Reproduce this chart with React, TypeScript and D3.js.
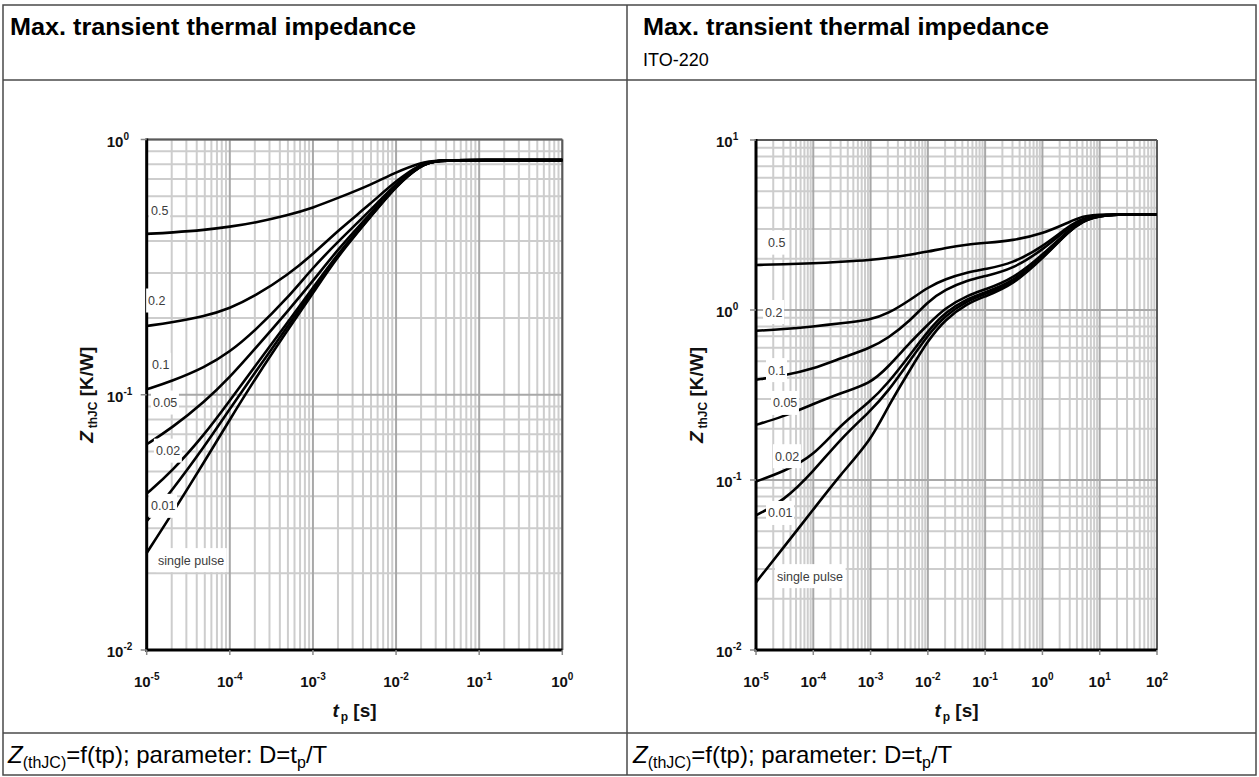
import React from 'react';
import * as d3 from 'd3';

// ---------- DATA ----------
// Left chart: time points (s) and Zth (K/W) per duty cycle
const leftT = [1e-5, 2e-5, 5e-5, 1e-4, 2e-4, 5e-4, 1e-3, 2e-3, 5e-3, 1e-2, 2e-2, 3e-2, 1e-1, 1];
const leftD05 = [0.427, 0.432, 0.442, 0.455, 0.472, 0.505, 0.54, 0.59, 0.665, 0.745, 0.812, 0.83, 0.83, 0.83];
const leftD02 = [0.186, 0.192, 0.203, 0.218, 0.243, 0.295, 0.355, 0.44, 0.562, 0.69, 0.805, 0.83, 0.83, 0.83];
const leftD01 = [0.105, 0.113, 0.128, 0.147, 0.178, 0.24, 0.315, 0.398, 0.53, 0.675, 0.8, 0.83, 0.83, 0.83];
const leftD005 = [0.064, 0.074, 0.094, 0.117, 0.151, 0.213, 0.279, 0.372, 0.515, 0.667, 0.798, 0.83, 0.83, 0.83];
const leftD002 = [0.041, 0.05, 0.07, 0.095, 0.129, 0.193, 0.262, 0.358, 0.505, 0.662, 0.797, 0.83, 0.83, 0.83];
const leftD001 = [0.032, 0.042, 0.063, 0.088, 0.122, 0.186, 0.256, 0.354, 0.502, 0.66, 0.796, 0.83, 0.83, 0.83];
const leftSingle = [0.024, 0.034, 0.055, 0.08, 0.115, 0.18, 0.25, 0.35, 0.5, 0.658, 0.795, 0.83, 0.83, 0.83];

const leftLabelText = ['0.5', '0.2', '0.1', '0.05', '0.02', '0.01', 'single pulse'];
const leftLabelT = [1.13e-5, 1.04e-5, 1.16e-5, 1.19e-5, 1.29e-5, 1.13e-5, 1.37e-5];
const leftLabelZ = [0.528, 0.234, 0.131, 0.0932, 0.0604, 0.0367, 0.0225];

// Right chart (ITO-220)
const rightT = [1e-5, 3e-5, 1e-4, 3e-4, 1e-3, 2e-3, 5e-3, 1e-2, 2e-2, 5e-2, 1e-1, 3e-1, 1, 3, 5, 10, 100];
const rightD05 = [1.84, 1.86, 1.88, 1.92, 1.97, 2.02, 2.12, 2.2, 2.32, 2.43, 2.48, 2.56, 2.8, 3.3, 3.56, 3.66, 3.66];
const rightD02 = [0.755, 0.77, 0.8, 0.835, 0.875, 0.95, 1.15, 1.36, 1.52, 1.67, 1.74, 1.88, 2.35, 3.15, 3.45, 3.66, 3.66];
const rightD01 = [0.389, 0.41, 0.45, 0.52, 0.6, 0.68, 0.87, 1.12, 1.32, 1.5, 1.58, 1.74, 2.25, 3.1, 3.4, 3.66, 3.66];
const rightD005 = [0.211, 0.236, 0.28, 0.325, 0.37, 0.46, 0.65, 0.82, 1.03, 1.22, 1.32, 1.52, 2.1, 3.0, 3.35, 3.66, 3.66];
const rightD002 = [0.098, 0.112, 0.138, 0.212, 0.29, 0.37, 0.55, 0.75, 0.97, 1.17, 1.27, 1.46, 2.05, 2.98, 3.33, 3.66, 3.66];
const rightD001 = [0.062, 0.075, 0.112, 0.175, 0.255, 0.33, 0.51, 0.71, 0.93, 1.14, 1.24, 1.43, 2.02, 2.96, 3.31, 3.66, 3.66];
const rightSingle = [0.025, 0.04, 0.067, 0.108, 0.17, 0.27, 0.45, 0.66, 0.88, 1.1, 1.2, 1.4, 2.0, 2.95, 3.3, 3.66, 3.66];

const rightLabelText = ['0.5', '0.2', '0.1', '0.05', '0.02', '0.01', 'single pulse'];
const rightLabelT = [1.62e-5, 1.44e-5, 1.62e-5, 1.98e-5, 2.14e-5, 1.62e-5, 2.32e-5];
const rightLabelZ = [2.49, 0.973, 0.443, 0.284, 0.138, 0.064, 0.0272];

const leftXExps = [-5, -4, -3, -2, -1, 0];
const leftYExps = [-2, -1, 0];
const rightXExps = [-5, -4, -3, -2, -1, 0, 1, 2];
const rightYExps = [-2, -1, 0, 1];

// ---------- HELPERS ----------
const FONT = "'Liberation Sans', Arial, sans-serif";

function approxWidth(s: string, fs: number) {
  let w = 0;
  for (const c of s) {
    if (c === '.' || c === ' ' || c === 'i' || c === 'l') w += 0.25;
    else if (c === 's') w += 0.5;
    else w += 0.556;
  }
  return w * fs;
}

type ChartProps = {
  px0: number; px1: number; py0: number; py1: number;
  tDomain: [number, number]; zDomain: [number, number];
  tValues: number[]; series: number[][];
  labelText: string[]; labelT: number[]; labelZ: number[];
  xExps: number[]; yExps: number[];
  yTitleX: number;
};

function Chart(p: ChartProps) {
  const x = d3.scaleLog().domain(p.tDomain).range([p.px0, p.px1]);
  const y = d3.scaleLog().domain(p.zDomain).range([p.py1, p.py0]);
  const xMinor: number[] = [];
  for (let e = p.xExps[0]; e < p.xExps[p.xExps.length - 1]; e++)
    for (let k = 2; k <= 9; k++) xMinor.push(k * Math.pow(10, e));
  const yMinor: number[] = [];
  for (let e = p.yExps[0]; e < p.yExps[p.yExps.length - 1]; e++)
    for (let k = 2; k <= 9; k++) yMinor.push(k * Math.pow(10, e));
  const line = d3.line<number>()
    .x((_, i) => x(p.tValues[i]))
    .y((d) => y(d))
    .curve(d3.curveBasis);
  const cx = (p.px0 + p.px1) / 2;
  const cy = (p.py0 + p.py1) / 2;
  const lfs = 12.5;
  return (
    <g fontFamily={FONT}>
      {xMinor.map((v, i) => (
        <line key={'xm' + i} x1={x(v)} x2={x(v)} y1={p.py0} y2={p.py1} stroke="#cdcdcd" strokeWidth={2} />
      ))}
      {yMinor.map((v, i) => (
        <line key={'ym' + i} y1={y(v)} y2={y(v)} x1={p.px0} x2={p.px1} stroke="#cdcdcd" strokeWidth={2} />
      ))}
      {p.xExps.map((e) => (
        <line key={'xM' + e} x1={x(Math.pow(10, e))} x2={x(Math.pow(10, e))} y1={p.py0} y2={p.py1} stroke="#a8a8a8" strokeWidth={2} />
      ))}
      {p.yExps.map((e) => (
        <line key={'yM' + e} y1={y(Math.pow(10, e))} y2={y(Math.pow(10, e))} x1={p.px0} x2={p.px1} stroke="#a8a8a8" strokeWidth={2} />
      ))}
      <line x1={p.px0} x2={p.px1} y1={p.py0} y2={p.py0} stroke="#5a5a5a" strokeWidth={2} />
      <line x1={p.px1} x2={p.px1} y1={p.py0} y2={p.py1} stroke="#5a5a5a" strokeWidth={2} />
      {p.series.map((s, i) => (
        <path key={'s' + i} d={line(s) || ''} fill="none" stroke="#000" strokeWidth={2.6} />
      ))}
      <line x1={p.px0} x2={p.px0} y1={p.py0 - 1} y2={p.py1 + 1.5} stroke="#000" strokeWidth={3} />
      <line x1={p.px0 - 1.5} x2={p.px1} y1={p.py1} y2={p.py1} stroke="#000" strokeWidth={3} />
      {p.yExps.map((e) => (
        <g key={'yt' + e}>
          <line x1={p.px0 - 6} x2={p.px0} y1={y(Math.pow(10, e))} y2={y(Math.pow(10, e))} stroke="#888" strokeWidth={1.5} />
          <text x={p.px0 - 40} y={y(Math.pow(10, e)) + 7} fontSize={15} fontWeight="bold" fill="#111">
            <tspan>10</tspan>
            <tspan dy={-7} fontSize={10}>{String(e)}</tspan>
          </text>
        </g>
      ))}
      {p.xExps.map((e) => (
        <g key={'xt' + e}>
          <line x1={x(Math.pow(10, e))} x2={x(Math.pow(10, e))} y1={p.py1} y2={p.py1 + 5} stroke="#888" strokeWidth={1.5} />
          <text x={x(Math.pow(10, e))} y={p.py1 + 37} fontSize={15} fontWeight="bold" fill="#111" textAnchor="middle">
            <tspan>10</tspan>
            <tspan dy={-7} fontSize={10}>{String(e)}</tspan>
          </text>
        </g>
      ))}
      {p.labelText.map((s, i) => {
        const lx = x(p.labelT[i]);
        const ly = y(p.labelZ[i]);
        const w = approxWidth(s, lfs);
        return (
          <g key={'l' + i}>
            <rect x={lx - 2} y={ly - 12} width={w + 4} height={24} fill="#fff" />
            <text x={lx} y={ly + 4.5} fontSize={lfs} fill="#3c3c3c">{s}</text>
          </g>
        );
      })}
      <text x={cx} y={p.py1 + 67} fontSize={19} fontWeight="bold" textAnchor="middle" fill="#111">
        <tspan fontStyle="italic">t</tspan>
        <tspan dx={2} dy={4} fontSize={12}>p</tspan>
        <tspan dy={-4}> [s]</tspan>
      </text>
      <text transform={`translate(${p.yTitleX},${cy}) rotate(-90)`} fontSize={19} fontWeight="bold" textAnchor="middle" fill="#111">
        <tspan fontStyle="italic">Z</tspan>
        <tspan dx={3} dy={4} fontSize={12}>thJC</tspan>
        <tspan dy={-4}> [K/W]</tspan>
      </text>
    </g>
  );
}

export default function App() {
  const W = 1259, H = 777;
  const border = '#4a4a4a';
  return (
    <svg width={W} height={H} style={{ position: 'absolute', left: 0, top: 0, display: 'block', background: '#fff' }}>
      <rect x={0} y={0} width={W} height={H} fill="#fff" />
      {/* table */}
      <rect x={3} y={5} width={1253} height={770} fill="none" stroke={border} strokeWidth={1.5} />
      <line x1={3} x2={1256} y1={80} y2={80} stroke={border} strokeWidth={1.5} />
      <line x1={3} x2={1256} y1={733} y2={733} stroke={border} strokeWidth={1.5} />
      <line x1={627} x2={627} y1={5} y2={775} stroke={border} strokeWidth={1.5} />
      <g fontFamily={FONT} fill="#000">
        <text x={10} y={35} fontSize={24} fontWeight="bold" textLength={406} lengthAdjust="spacingAndGlyphs">Max. transient thermal impedance</text>
        <text x={643} y={35} fontSize={24} fontWeight="bold" textLength={406} lengthAdjust="spacingAndGlyphs">Max. transient thermal impedance</text>
        <text x={643} y={66} fontSize={18}>ITO-220</text>
        {[8, 633].map((fx) => (
          <text key={fx} x={fx} y={763} fontSize={24}>
            <tspan fontStyle="italic">Z</tspan>
            <tspan dy={5} fontSize={16}>(thJC)</tspan>
            <tspan dy={-5}>=f(tp); parameter: D=t</tspan>
            <tspan dy={5} fontSize={16}>p</tspan>
            <tspan dy={-5}>/T</tspan>
          </text>
        ))}
      </g>
      <Chart
        px0={146.7} px1={562.3} py0={139.5} py1={650}
        tDomain={[1e-5, 1]} zDomain={[0.01, 1]}
        tValues={leftT}
        series={[leftD05, leftD02, leftD01, leftD005, leftD002, leftD001, leftSingle]}
        labelText={leftLabelText} labelT={leftLabelT} labelZ={leftLabelZ}
        xExps={leftXExps} yExps={leftYExps}
        yTitleX={93}
      />
      <Chart
        px0={756} px1={1157} py0={140} py1={650}
        tDomain={[1e-5, 100]} zDomain={[0.01, 10]}
        tValues={rightT}
        series={[rightD05, rightD02, rightD01, rightD005, rightD002, rightD001, rightSingle]}
        labelText={rightLabelText} labelT={rightLabelT} labelZ={rightLabelZ}
        xExps={rightXExps} yExps={rightYExps}
        yTitleX={703}
      />
    </svg>
  );
}
